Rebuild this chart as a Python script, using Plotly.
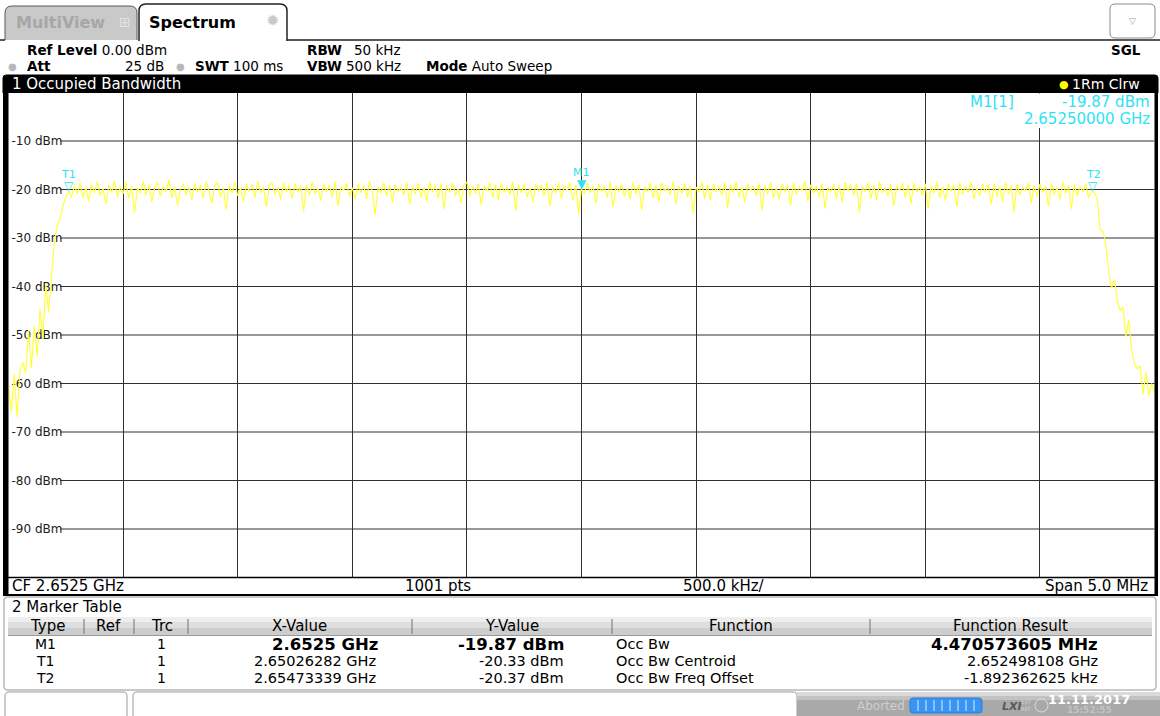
import plotly.graph_objects as go

W, H = 1160, 716
FONT = "DejaVu Sans"

# ---------------- data ----------------
sweep_start_ghz = 2.65
sweep_step_ghz = 0.0000125
x_range_ghz = [2.65, 2.655]
y_range_dbm = [-100, 0]
x_grid_step_ghz = 0.0005

rise_dbm = [-60.5, -65.8, -58.1, -66.9, -57.2, -55.6, -57.9, -49.0, -56.8, -48.2,
            -54.3, -44.6, -51.0, -39.4, -45.3, -38.1, -30.9, -27.4, -26.1, -23.4, -21.6]

flat_dbm = [
    -20.33, -21.6, -19.2, -20.9, -18.6, -21.8, -19.5, -22.4, -19.0, -20.7, -18.4, -21.3, -19.8, -23.0, -19.1, -20.6, -18.2, -21.5, -19.4, -20.9,
    -18.5, -21.9, -19.3, -24.8, -19.6, -20.8, -18.3, -21.2, -19.0, -22.6, -19.7, -18.6, -21.4, -19.2, -20.5, -17.9, -21.7, -19.4, -23.3, -19.9,
    -18.8, -21.1, -19.5, -22.2, -18.7, -20.6, -19.1, -21.8, -18.4, -20.3, -22.9, -19.3, -18.6, -21.5, -19.8, -24.1, -19.2, -20.7, -18.5, -21.3,
    -19.6, -22.5, -18.9, -20.4, -19.0, -21.7, -18.3, -20.8, -19.5, -23.6, -19.1, -18.7, -21.0, -19.4, -22.1, -18.6, -20.5, -19.2, -21.9, -18.8,
    -20.6, -19.3, -24.5, -19.0, -21.2, -18.5, -20.9, -19.7, -22.3, -18.9, -20.4, -19.1, -21.6, -18.4, -23.4, -19.5, -20.2, -18.7, -21.4, -19.6,
    -22.0, -18.8, -20.7, -19.2, -21.9, -18.3, -20.5, -25.2, -19.4, -20.8, -18.6, -21.3, -19.1, -22.7, -18.9, -20.4, -19.6, -21.1, -18.5, -23.0,
    -19.3, -20.9, -18.7, -21.6, -19.5, -22.4, -18.4, -20.6, -19.0, -21.8, -18.8, -24.0, -19.2, -20.5, -18.6, -21.2, -19.7, -22.8, -19.1, -18.5,
    -21.4, -19.3, -20.8, -18.9, -23.2, -19.4, -20.3, -18.6, -21.7, -19.0, -22.1, -18.7, -20.6, -19.5, -21.0, -18.4, -24.4, -19.2, -20.7, -18.8,
    -21.5, -19.6, -22.6, -18.9, -20.4, -19.1, -21.3, -18.5, -23.5, -19.4, -20.8, -18.7, -21.9, -19.3, -20.2, -18.6, -22.2, -19.0, -25.1, -19.87,
    -21.0, -18.6, -20.7, -19.3, -22.8, -18.8, -20.4, -19.5, -21.6, -18.4, -23.7, -19.2, -20.6, -18.9, -21.4, -19.7, -22.0, -18.5, -20.9, -19.1,
    -24.2, -19.4, -20.5, -18.7, -21.8, -19.0, -22.5, -18.6, -20.3, -19.6, -21.1, -18.3, -23.1, -19.3, -20.8, -18.9, -21.5, -19.2, -24.9, -19.5,
    -20.6, -18.5, -21.9, -19.1, -22.3, -18.8, -20.4, -19.4, -21.2, -18.6, -23.8, -19.0, -20.7, -18.4, -21.6, -19.5, -22.6, -18.9, -20.2, -19.3,
    -21.3, -18.7, -24.3, -19.2, -20.9, -18.5, -21.7, -19.6, -22.0, -18.8, -20.5, -19.1, -23.3, -18.6, -21.0, -19.4, -20.3, -18.3, -22.4, -19.0,
    -20.8, -19.3, -21.5, -18.7, -23.9, -19.5, -20.6, -18.9, -21.8, -19.2, -22.7, -18.5, -20.4, -19.0, -21.1, -18.8, -24.7, -19.4, -20.5, -18.6,
    -21.9, -19.1, -22.2, -18.4, -20.7, -19.6, -21.4, -18.9, -23.4, -19.3, -20.2, -18.7, -21.6, -19.0, -22.9, -18.6, -20.5, -19.5, -21.2, -18.8,
    -24.0, -19.2, -20.8, -18.5, -21.7, -19.4, -22.3, -18.8, -20.4, -19.1, -23.6, -18.6, -21.0, -19.3, -20.6, -18.4, -22.0, -19.7, -21.3, -18.9,
    -20.7, -19.0, -23.1, -18.7, -21.5, -19.4, -22.5, -18.5, -20.9, -19.2, -24.6, -18.8, -21.2, -19.5, -20.3, -18.6, -22.8, -19.1, -21.4, -18.9,
    -20.6, -19.3, -23.5, -18.7, -21.0, -19.6, -22.1, -18.5, -20.8, -19.2, -24.0, -18.9, -21.3, -19.4, -20.5, -18.8, -21.7, -20.37,
]

fall_dbm = [-20.6, -21.8, -28.4, -28.6, -31.2, -36.8, -40.3, -38.5, -42.7, -45.0, -44.2,
            -50.4, -46.9, -52.8, -55.9, -57.0, -56.4, -62.3, -57.6, -62.5, -60.0, -62.1]

trace_dbm = rise_dbm + flat_dbm + fall_dbm

marker_names = ["M1", "T1", "T2"]
marker_freq_ghz = [2.6525, 2.65026282, 2.65473339]
marker_level_dbm = [-19.87, -20.33, -20.37]
marker_glyphs = ["▼", "▽", "▽"]

y_tick_vals = [-10, -20, -30, -40, -50, -60, -70, -80, -90]
y_tick_text = ["-10 dBm", "-20 dBm", "-30 dBm", "-40 dBm", "-50 dBm",
               "-60 dBm", "-70 dBm", "-80 dBm", "-90 dBm"]

table_cols = ["Type", "Ref", "Trc", "X-Value", "Y-Value", "Function", "Function Result"]
table_type = ["M1", "T1", "T2"]
table_trc = ["1", "1", "1"]
table_x = ["2.6525 GHz", "2.65026282 GHz", "2.65473339 GHz"]
table_y = ["-19.87 dBm", "-20.33 dBm", "-20.37 dBm"]
table_func = ["Occ Bw", "Occ Bw Centroid", "Occ Bw Freq Offset"]
table_result = ["4.470573605 MHz", "2.652498108 GHz", "-1.892362625 kHz"]

# ---------------- helpers ----------------
CYAN = "#2de2f5"
shapes = []
anns = []


def X(px):
    return px / W


def Y(py):
    return 1 - py / H


def rect(x0, y0, x1, y1, fill=None, line=None, lw=1, layer="above"):
    shapes.append(dict(type="rect", xref="paper", yref="paper",
                       x0=X(x0), x1=X(x1), y0=Y(y1), y1=Y(y0),
                       fillcolor=fill if fill else "rgba(0,0,0,0)",
                       line=dict(color=line if line else "rgba(0,0,0,0)", width=lw if line else 0),
                       layer=layer))


def hline(x0, x1, y, color, lw=1, layer="above"):
    shapes.append(dict(type="line", xref="paper", yref="paper",
                       x0=X(x0), x1=X(x1), y0=Y(y), y1=Y(y),
                       line=dict(color=color, width=lw), layer=layer))


def vline(x, y0, y1, color, lw=1, layer="above"):
    shapes.append(dict(type="line", xref="paper", yref="paper",
                       x0=X(x), x1=X(x), y0=Y(y0), y1=Y(y1),
                       line=dict(color=color, width=lw), layer=layer))


def rrect(x0, y0, x1, y1, r, fill, line, lw=1, top_only=False, layer="above"):
    def P(x, y):
        return f"{X(x):.5f},{Y(y):.5f}"
    if top_only:
        path = (f"M {P(x0, y1)} L {P(x0, y0 + r)} Q {P(x0, y0)} {P(x0 + r, y0)} "
                f"L {P(x1 - r, y0)} Q {P(x1, y0)} {P(x1, y0 + r)} L {P(x1, y1)}")
    else:
        path = (f"M {P(x0, y0 + r)} Q {P(x0, y0)} {P(x0 + r, y0)} L {P(x1 - r, y0)} "
                f"Q {P(x1, y0)} {P(x1, y0 + r)} L {P(x1, y1 - r)} Q {P(x1, y1)} {P(x1 - r, y1)} "
                f"L {P(x0 + r, y1)} Q {P(x0, y1)} {P(x0, y1 - r)} Z")
    shapes.append(dict(type="path", xref="paper", yref="paper", path=path,
                       fillcolor=fill, line=dict(color=line, width=lw), layer=layer))


def txt(px, py, s, size=14, color="#000000", xanchor="left", family=FONT):
    anns.append(dict(x=X(px), y=Y(py), xref="paper", yref="paper", text=s,
                     showarrow=False, xanchor=xanchor, yanchor="middle",
                     font=dict(family=family, size=size, color=color)))


# ---------------- figure ----------------
fig = go.Figure()
fig.add_trace(go.Scatter(x0=sweep_start_ghz, dx=sweep_step_ghz, y=trace_dbm,
                         mode="lines", line=dict(color="#ffff33", width=1.1),
                         hoverinfo="skip", showlegend=False))

# horizontal grid (data-referenced), starting right after the labels
for v in y_tick_vals:
    shapes.append(dict(type="line", xref="paper", yref="y", x0=X(60), x1=X(1154.5),
                       y0=v, y1=v, line=dict(color="#303030", width=1), layer="below"))

# ---- tabs / header ----
rrect(5, 6, 137, 40, 7, "#c9c9c9", "#5a5a5a", 1, top_only=True)
rrect(139, 4, 287, 41, 7, "#ffffff", "#222222", 1.5, top_only=True)
hline(0, 5, 40, "#222222", 1.5)
hline(287, 1160, 40, "#222222", 1.5)
txt(14, 23, "<b>MultiView</b>", 16, "#a6a6a6")
txt(125, 22, "⊞", 14, "#e2e2e2", "center")
txt(147, 22, "<b>Spectrum</b>", 16, "#000000")
txt(272, 20, "✹", 16, "#c8c8c8", "center")
rrect(1110, 4, 1155, 38, 5, "#ffffff", "#8a8a8a", 1)
txt(1132, 21, "▽", 9, "#9a9a9a", "center")

txt(25, 50, "<b>Ref Level</b> 0.00 dBm", 13.5)
txt(12, 66, "●", 10, "#b8b8b8", "center")
txt(25, 66, "<b>Att</b>", 13.5)
txt(166, 66, "25 dB", 13.5, xanchor="right")
txt(180, 66, "●", 10, "#b8b8b8", "center")
txt(193, 66, "<b>SWT</b> 100 ms", 13.5)
txt(305, 50, "<b>RBW</b>", 13.5)
txt(403, 50, "50 kHz", 13.5, xanchor="right")
txt(305, 66, "<b>VBW</b>", 13.5)
txt(403, 66, "500 kHz", 13.5, xanchor="right")
txt(424, 66, "<b>Mode</b> Auto Sweep", 13.5)
txt(1143, 50, "<b>SGL</b>", 13.5, xanchor="right")

# ---- title bar ----
rrect(3, 75, 1158, 93, 3, "#000000", "#000000", 1, top_only=True)
txt(10, 84, "1 Occupied Bandwidth", 15, "#ffffff")
txt(1064, 84, "●", 11, "#ffff00", "center")
txt(1070, 84, "1Rm Clrw", 14, "#ffffff")

# ---- plot frame ----
rect(3, 92, 8.5, 595, fill="#000000")
rect(1154.5, 92, 1158, 595, fill="#000000")
hline(3, 1158, 577.5, "#000000", 1.5)
hline(3, 1158, 595, "#000000", 2)

# marker info box (covers grid)
rect(958, 93.5, 1154, 128, fill="#ffffff")
txt(968, 102, "M1[1]", 15, CYAN)
txt(1152, 102, "-19.87 dBm", 15, CYAN, "right")
txt(1152, 119, "2.65250000 GHz", 15, CYAN, "right")

# trace markers
for name, f, lvl, g in zip(marker_names, marker_freq_ghz, marker_level_dbm, marker_glyphs):
    anns.append(dict(x=f, y=lvl, xref="x", yref="y", text=g, showarrow=False,
                     xanchor="center", yanchor="bottom", yshift=-4,
                     font=dict(family=FONT, size=12, color=CYAN)))
    anns.append(dict(x=f, y=lvl, xref="x", yref="y", text=name, showarrow=False,
                     xanchor="center", yanchor="bottom", yshift=8,
                     font=dict(family=FONT, size=11, color=CYAN)))

# ---- bottom info row ----
txt(10, 586, "CF 2.6525 GHz", 15)
txt(438, 586, "1001 pts", 15, xanchor="center")
txt(724, 586, "500.0 kHz/", 15, xanchor="center")
txt(1150, 586, "Span 5.0 MHz", 15, xanchor="right")

# ---- marker table ----
rrect(4, 597, 1156, 690, 4, "#ffffff", "#b8b8b8", 1.5)
txt(10, 607, "2 Marker Table", 15)
rect(8, 617, 1152, 622, fill="#eeeeee")
rect(8, 622, 1152, 628, fill="#dedede")
rect(8, 628, 1152, 635, fill="#cdcdcd")
hline(8, 1152, 635.5, "#9a9a9a", 1)
for sx in [84, 134, 188, 412, 612, 870]:
    vline(sx, 619, 634, "#707070", 1)
col_centers = [47, 108, 162, 299, 512, 741, 1010]
for c, name in zip(col_centers, table_cols):
    txt(c, 626, name, 15, xanchor="center")

row_y = [644, 661, 678]
for i, ry in enumerate(row_y):
    bold = (i == 0)
    txt(45, ry, table_type[i], 14, xanchor="center")
    txt(161, ry, table_trc[i], 14, xanchor="center")
    if bold:
        txt(380, ry, f"<b>{table_x[i]}</b>", 16.5, xanchor="right")
        txt(566, ry, f"<b>{table_y[i]}</b>", 16.5, xanchor="right")
        txt(1100, ry, f"<b>{table_result[i]}</b>", 16.5, xanchor="right")
    else:
        txt(378, ry, table_x[i], 14.5, xanchor="right")
        txt(566, ry, table_y[i], 14.5, xanchor="right")
        txt(1100, ry, table_result[i], 14.5, xanchor="right")
    txt(614, ry, table_func[i], 14.5)

# ---- status bar ----
rrect(5, 692, 127, 722, 4, "#ffffff", "#9a9a9a", 1)
rrect(133, 692, 797, 722, 4, "#ffffff", "#9a9a9a", 1)
rect(797, 692, 1160, 696, fill="#dadada")
rect(797, 696, 1160, 700, fill="#c2c2c2")
rect(797, 700, 1160, 716, fill="#a9a9a9")
txt(855, 706, "Aborted", 12, "#cfcfcf")
rrect(910, 698, 982, 713, 3, "#3a95f2", "#2a7fd8", 1)
for sx in range(918, 980, 8):
    vline(sx, 700, 711, "#d8ecff", 1)
txt(1000, 706, "<b><i>LXI</i></b>", 11, "#5a5a5a")
txt(1019, 702, "EXT", 5, "#d0d0d0")
txt(1019, 709, "REF", 5, "#d0d0d0")
shapes.append(dict(type="circle", xref="paper", yref="paper", x0=X(1035), x1=X(1048),
                   y0=Y(712), y1=Y(699), line=dict(color="#dcdcdc", width=1), layer="above"))
txt(1089, 699, "<b>11.11.2017</b>", 13, "#ffffff", "center")
txt(1089, 710, "<b>15:52:55</b>", 9, "#c4c4c4", "center")

fig.update_layout(
    width=W, height=H,
    margin=dict(l=0, r=0, t=0, b=0),
    paper_bgcolor="#ffffff", plot_bgcolor="#ffffff",
    showlegend=False,
    xaxis=dict(domain=[X(8.5), X(1154.5)], range=x_range_ghz, showticklabels=False,
               showgrid=True, tick0=x_range_ghz[0], dtick=x_grid_step_ghz,
               gridcolor="#303030", gridwidth=1, zeroline=False, showline=False, ticks=""),
    yaxis=dict(domain=[Y(577.5), Y(92.5)], range=y_range_dbm, showgrid=False,
               zeroline=False, showline=False, ticks="",
               tickvals=y_tick_vals, ticktext=y_tick_text,
               ticklabelposition="inside", layer="below traces",
               tickfont=dict(family=FONT, size=12, color="#202020")),
    shapes=shapes,
    annotations=anns,
)

fig.write_html("out.html", config={"displayModeBar": False},
               post_script="document.body.style.margin='0px';document.body.style.padding='0px';")
